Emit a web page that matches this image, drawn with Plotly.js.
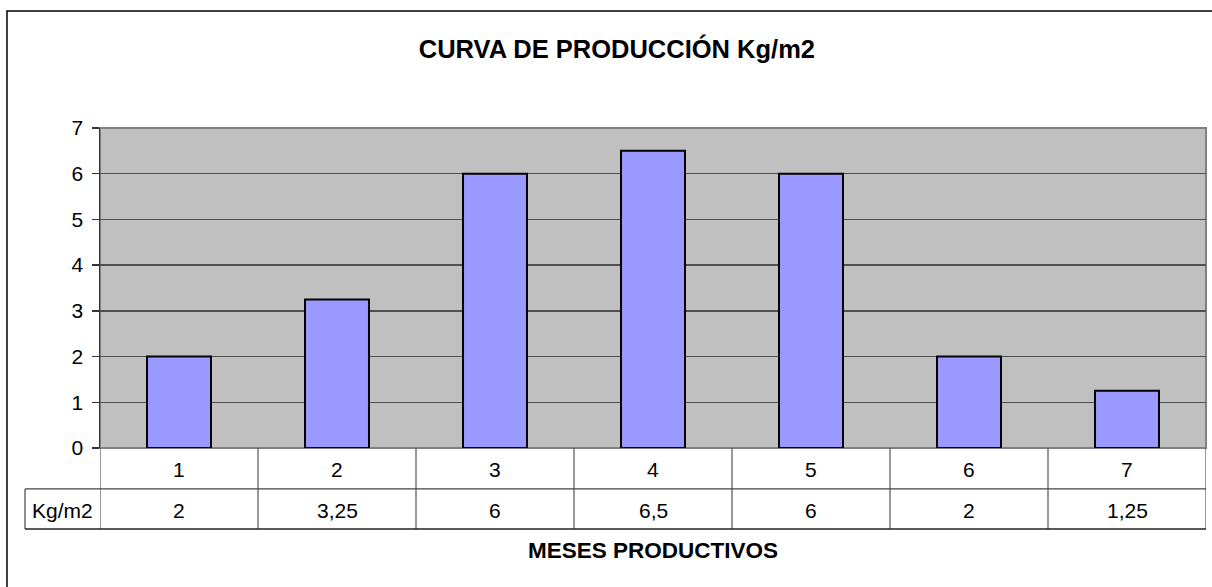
<!DOCTYPE html>
<html>
<head>
<meta charset="utf-8">
<script src="https://cdn.plot.ly/plotly-3.0.1.min.js"></script>
<style>html,body{margin:0;padding:0;background:#fff;}#chart{width:1212px;height:587px;}</style>
</head>
<body>
<div id="chart"></div>
<script>
const categories = ["1", "2", "3", "4", "5", "6", "7"];
const values = [2, 3.25, 6, 6.5, 6, 2, 1.25];
const valueLabels = ["2", "3,25", "6", "6,5", "6", "2", "1,25"];
const seriesName = "Kg/m2";
const yTicks = [0, 1, 2, 3, 4, 5, 6, 7];
const titleText = "CURVA DE PRODUCCIÓN Kg/m2";
const xTitleText = "MESES PRODUCTIVOS";

const FONT = "Liberation Sans, Arial, sans-serif";
const xs = categories.map((c, i) => i + 1);

// table geometry (paper coords relative to plot area)
const row1 = -0.128, row2 = -0.253, labelLeft = -0.0678;

const shapes = [];
// outer chart border
shapes.push({type:'rect', xref:'paper', yref:'paper', x0:-0.0841, x1:1.02, y0:-0.45, y1:1.3656,
  line:{color:'#000', width:1.5}, fillcolor:'rgba(0,0,0,0)', layer:'below'});
// plot area border
shapes.push({type:'rect', xref:'paper', yref:'paper', x0:0, x1:1, y0:0, y1:1,
  line:{color:'#808080', width:2}, layer:'below'});
// table vertical lines
for (let i = 0; i <= categories.length; i++) {
  shapes.push({type:'line', xref:'x', yref:'paper', x0:i+0.5, x1:i+0.5, y0:0, y1:row2,
    line:{color:'#555', width:1.2}});
}
// table horizontal lines
shapes.push({type:'line', xref:'paper', yref:'paper', x0:labelLeft, x1:1, y0:row1, y1:row1, line:{color:'#444', width:1.2}});
shapes.push({type:'line', xref:'paper', yref:'paper', x0:labelLeft, x1:1, y0:row2, y1:row2, line:{color:'#222', width:1.5}});
shapes.push({type:'line', xref:'paper', yref:'paper', x0:labelLeft, x1:labelLeft, y0:row1, y1:row2, line:{color:'#444', width:1.2}});

const annotations = [];
categories.forEach((c, i) => {
  annotations.push({x: xs[i], xref:'x', y:(0+row1)/2 - 0.004, yref:'paper', text:c, showarrow:false,
    xanchor:'center', yanchor:'middle', font:{family:FONT, size:21, color:'#000'}});
  annotations.push({x: xs[i], xref:'x', y:(row1+row2)/2 - 0.006, yref:'paper', text:valueLabels[i], showarrow:false,
    xanchor:'center', yanchor:'middle', font:{family:FONT, size:21, color:'#000'}});
});
annotations.push({x:(labelLeft+0)/2, xref:'paper', y:(row1+row2)/2 - 0.006, yref:'paper', text:seriesName, showarrow:false,
  xanchor:'center', yanchor:'middle', font:{family:FONT, size:21, color:'#000'}});
annotations.push({x:0.5, xref:'paper', y:-0.319, yref:'paper', text:'<b>'+xTitleText+'</b>', showarrow:false,
  xanchor:'center', yanchor:'middle', font:{family:FONT, size:22.5, color:'#000'}});

const trace = {
  type:'bar', x: xs, y: values, name: seriesName,
  marker:{color:'#9999FF', line:{color:'#000', width:2}},
  hoverinfo:'none'
};

const layout = {
  width:1212, height:587,
  margin:{l:100, r:6, t:128, b:139, pad:0},
  paper_bgcolor:'#fff', plot_bgcolor:'#C0C0C0',
  showlegend:false,
  bargap:0.595,
  title:{text:'<b>'+titleText+'</b>', x:0.509, xanchor:'center', xref:'container', yref:'container',
    y:1 - 49/587, yanchor:'middle', font:{family:FONT, size:25.5, color:'#000'}},
  xaxis:{range:[0.5, 7.5], showticklabels:false, showgrid:false, zeroline:false, ticks:'', showline:false, fixedrange:true},
  yaxis:{range:[0, 7], tickvals:yTicks, ticktext:yTicks.map(String), showgrid:true, gridcolor:'#505050', gridwidth:1.5,
    zeroline:false, showline:true, linecolor:'#333', linewidth:1.5, ticks:'outside', ticklen:7, tickcolor:'#333',
    tickwidth:1.5, tickfont:{family:FONT, size:21, color:'#000'}, ticklabelstandoff:4, fixedrange:true},
  shapes: shapes,
  annotations: annotations
};

Plotly.newPlot('chart', [trace], layout, {displayModeBar:false, staticPlot:true});
</script>
</body>
</html>
